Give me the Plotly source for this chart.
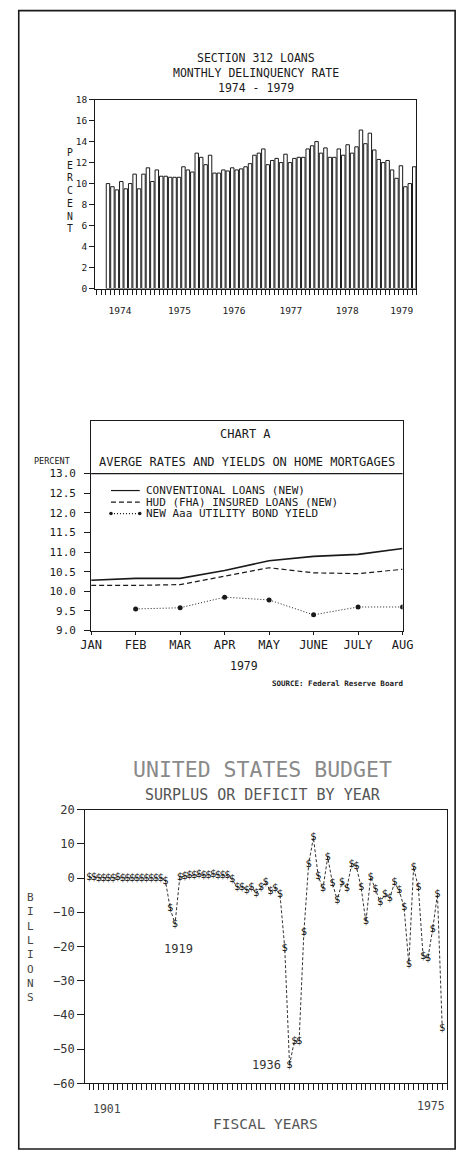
import plotly.graph_objects as go

# ---------------- data ----------------
# Section 312 loans: monthly delinquency rate (percent), 1974 onward
delinquency_rate = [
    10.0, 9.7, 9.4, 10.2, 9.5, 10.0, 10.9, 9.5, 10.9, 11.5,
    10.2, 11.3, 10.7, 10.7, 10.6, 10.6, 10.6, 11.6, 11.3, 11.1,
    12.9, 12.5, 11.8, 12.7, 11.0, 11.0, 11.3, 11.2, 11.5, 11.3,
    11.4, 11.6, 11.9, 12.7, 12.9, 13.3, 11.8, 12.2, 12.4, 12.0,
    12.8, 12.0, 12.4, 12.5, 12.5, 13.3, 13.6, 14.0, 12.9, 13.4,
    12.5, 12.5, 13.3, 12.7, 13.7, 12.9, 13.5, 15.1, 13.8, 14.8,
    13.2, 12.3, 12.0, 12.2, 11.3, 10.5, 11.7, 9.7, 10.0, 11.6,
]
year_labels = ["1974", "1975", "1976", "1977", "1978", "1979"]
year_label_pos = [2.7, 16.1, 28.4, 41.2, 53.9, 66.2]

# Chart A: average rates and yields on home mortgages, 1979
months = ["JAN", "FEB", "MAR", "APR", "MAY", "JUNE", "JULY", "AUG"]
conventional = [10.28, 10.33, 10.33, 10.53, 10.78, 10.89, 10.94, 11.09]
hud_fha = [10.15, 10.15, 10.17, 10.38, 10.60, 10.47, 10.45, 10.56]
bond_months = ["FEB", "MAR", "APR", "MAY", "JUNE", "JULY", "AUG"]
bond_yield = [9.55, 9.58, 9.85, 9.78, 9.40, 9.60, 9.60]

# United States budget surplus or deficit (billions), fiscal years 1901-1975
fiscal_years = list(range(1901, 1976))
budget = [
    0.1, 0.1, 0.0, -0.0, -0.0, 0.0, 0.1, -0.1, -0.1, -0.0,
    0.0, 0.0, 0.0, -0.0, -0.1, 0.0, -0.9, -9.0, -13.4, 0.3,
    0.5, 0.7, 0.7, 1.0, 0.7, 0.9, 1.2, 0.9, 0.7, 0.7,
    -0.5, -2.7, -2.6, -3.6, -2.8, -4.4, -2.8, -1.2, -3.9, -2.9,
    -4.9, -20.5, -54.6, -47.6, -47.6, -15.9, 4.0, 11.8, 0.6, -3.1,
    6.1, -1.5, -6.5, -1.2, -3.0, 3.9, 3.4, -2.8, -12.8, 0.3,
    -3.3, -7.1, -4.8, -5.9, -1.4, -3.7, -8.6, -25.2, 3.2, -2.8,
    -23.0, -23.4, -14.9, -4.7, -43.8,
]

# ---------------- page geometry ----------------
# Layout positions below are given in final image pixels (466 x 1159).
# The figure sits inside the page body margin; SX/SY/OX/OY convert image
# pixels back to page pixels before mapping to paper units.
BODY_MARGIN = 8
W, H = 469, 1157
SX, SY, OX, OY = 0.961, 0.988, 0.5, -1.5
FONT = "DejaVu Sans Mono"
INK = "#1a1a1a"


def px(x):
    return ((x - OX) / SX - BODY_MARGIN) / W


def py(y):
    return 1 - ((y - OY) / SY - BODY_MARGIN) / H


def text(t, x, y, size, color=INK, **kw):
    return dict(text=t, x=px(x), y=py(y), xref="paper", yref="paper",
                showarrow=False, font=dict(family=FONT, size=size, color=color),
                xanchor=kw.pop("xanchor", "center"), yanchor=kw.pop("yanchor", "middle"),
                **kw)


fig = go.Figure()

# ---------------- chart 1: delinquency bars ----------------
fig.add_trace(go.Bar(
    x=list(range(len(delinquency_rate))), y=delinquency_rate,
    marker=dict(color="white", line=dict(color=INK, width=1)),
    xaxis="x", yaxis="y", showlegend=False,
))

# ---------------- chart 2: mortgage rates ----------------
fig.add_trace(go.Scatter(
    x=months, y=conventional, mode="lines",
    line=dict(color=INK, width=1.6), xaxis="x2", yaxis="y2", showlegend=False,
))
fig.add_trace(go.Scatter(
    x=months, y=hud_fha, mode="lines",
    line=dict(color=INK, width=1.2, dash="5px,3px"), xaxis="x2", yaxis="y2", showlegend=False,
))
fig.add_trace(go.Scatter(
    x=bond_months, y=bond_yield, mode="lines+markers",
    line=dict(color=INK, width=1, dash="1px,2px"),
    marker=dict(color=INK, size=5), xaxis="x2", yaxis="y2", showlegend=False,
))

# ---------------- chart 3: budget surplus/deficit ----------------
fig.add_trace(go.Scatter(
    x=fiscal_years, y=budget, mode="lines+text", text=["$"] * len(budget),
    textposition="middle center", textfont=dict(family=FONT, size=10.5, color=INK),
    line=dict(color="#333", width=1, dash="3px,2px"),
    xaxis="x3", yaxis="y3", showlegend=False, cliponaxis=False,
))

axis_common = dict(showline=True, linecolor=INK, linewidth=1, mirror=True,
                   showgrid=False, zeroline=False, tickcolor=INK,
                   tickfont=dict(family=FONT, size=9.5, color=INK))

layout = dict(
    width=W, height=H, margin=dict(l=0, r=0, t=0, b=0),
    paper_bgcolor="white", plot_bgcolor="white", bargap=0.22,
    # chart 1
    xaxis=dict(axis_common, domain=[px(93), px(417)], anchor="y",
               range=[-2.9, 69.5], tickvals=year_label_pos, ticktext=year_labels,
               ticks="", ticklabelstandoff=13,
               minor=dict(ticks="outside", tick0=-0.5, dtick=1, ticklen=5, tickcolor=INK)),
    yaxis=dict(axis_common, domain=[py(288), py(99)], anchor="x",
               range=[0, 18], tickvals=list(range(0, 19, 2)), ticks="outside", ticklen=5),
    # chart 2
    xaxis2=dict(axis_common, domain=[px(89), px(403)], anchor="y2",
                categoryorder="array", categoryarray=months, range=[0, 7],
                ticks="outside", ticklen=3, tickfont=dict(family=FONT, size=12, color=INK)),
    yaxis2=dict(axis_common, domain=[py(630), py(420)], anchor="x2",
                range=[9, 9 + (630 - 420) / 39.25],
                tickvals=[9, 9.5, 10, 10.5, 11, 11.5, 12, 12.5, 13],
                ticktext=["9.0", "9.5", "10.0", "10.5", "11.0", "11.5", "12.0", "12.5", "13.0"],
                ticks="outside", ticklen=6, ticklabelstandoff=6,
                tickfont=dict(family=FONT, size=11, color=INK)),
    # chart 3
    xaxis3=dict(axis_common, domain=[px(83), px(448)], anchor="y3",
                range=[1900.17, 1976.04], showticklabels=False,
                ticks="outside", tick0=1901, dtick=1, ticklen=6),
    yaxis3=dict(axis_common, domain=[py(1083), py(809)], anchor="x3",
                range=[-60, 20], tickvals=list(range(-60, 21, 10)),
                ticks="outside", ticklen=7, tickfont=dict(family=FONT, size=12, color="#333")),
)
fig.update_layout(**layout)

shapes = [
    # outer frame
    dict(type="rect", xref="paper", yref="paper", x0=px(16), x1=px(456),
         y0=max(py(1153), 1 / H), y1=py(10), line=dict(color=INK, width=1.6)),
    # chart A header rule at 13.0
    dict(type="line", xref="x2 domain", yref="y2", x0=0, x1=1, y0=13, y1=13,
         line=dict(color=INK, width=1.2)),
]

# chart A key
key_rows = [
    ("CONVENTIONAL LOANS (NEW)", 490, "solid", False),
    ("HUD (FHA) INSURED LOANS (NEW)", 501.5, "5px,3px", False),
    ("NEW Aaa UTILITY BOND YIELD", 513, "1px,2px", True),
]
annotations = []
for label, yy, dash, dots in key_rows:
    shapes.append(dict(type="line", xref="paper", yref="paper", x0=px(109), x1=px(138),
                       y0=py(yy), y1=py(yy), line=dict(color=INK, width=1.2, dash=dash)))
    if dots:
        for cx in (109, 138):
            shapes.append(dict(type="circle", xref="paper", yref="paper",
                               x0=px(cx - 1.8), x1=px(cx + 1.8), y0=py(yy + 1.8), y1=py(yy - 1.8),
                               fillcolor=INK, line=dict(color=INK, width=0)))
    annotations.append(text(label, 142, yy, 11, xanchor="left"))

annotations += [
    # chart 1 titles
    text("SECTION 312 LOANS", 255, 57, 11.5),
    text("MONTHLY DELINQUENCY RATE", 255, 72, 11.5),
    text("1974 - 1979", 255, 87, 11.5),
    text("P<br>E<br>R<br>C<br>E<br>N<br>T", 68, 190, 9.8),
    # chart 2 titles
    text("CHART A", 245, 433, 12),
    text("AVERGE RATES AND YIELDS ON HOME MORTGAGES", 246, 461, 12),
    text("PERCENT", 50, 460, 8.5),
    text("1979", 243, 665, 11.5),
    text("<b>SOURCE: Federal Reserve Board</b>", 337, 683, 7.5),
    # chart 3 titles
    text("UNITED STATES BUDGET", 262, 769, 21.5, color="#8a8a8a"),
    text("SURPLUS OR DEFICIT BY YEAR", 262, 794, 15, color="#555"),
    text("B<br>I<br>L<br>L<br>I<br>O<br>N<br>S", 28, 947, 11, color="#444"),
    text("FISCAL YEARS", 265, 1124, 14.5, color="#555"),
    dict(text="1901", x=1901, y=py(1109), xref="x3", yref="paper", showarrow=False,
         xanchor="left", yanchor="middle", xshift=2,
         font=dict(family=FONT, size=11.5, color="#444")),
    dict(text="1975", x=1975, y=py(1106), xref="x3", yref="paper", showarrow=False,
         xanchor="right", yanchor="middle", xshift=5,
         font=dict(family=FONT, size=11.5, color="#444")),
    dict(text="1919", x=1919.7, y=-20.7, xref="x3", yref="y3", showarrow=False,
         font=dict(family=FONT, size=12, color="#333")),
    dict(text="1936", x=1941.6, y=-54.5, xref="x3", yref="y3", showarrow=False,
         xanchor="right", font=dict(family=FONT, size=12, color="#333")),
]

fig.update_layout(shapes=shapes, annotations=annotations)
fig.write_html("out.html")
